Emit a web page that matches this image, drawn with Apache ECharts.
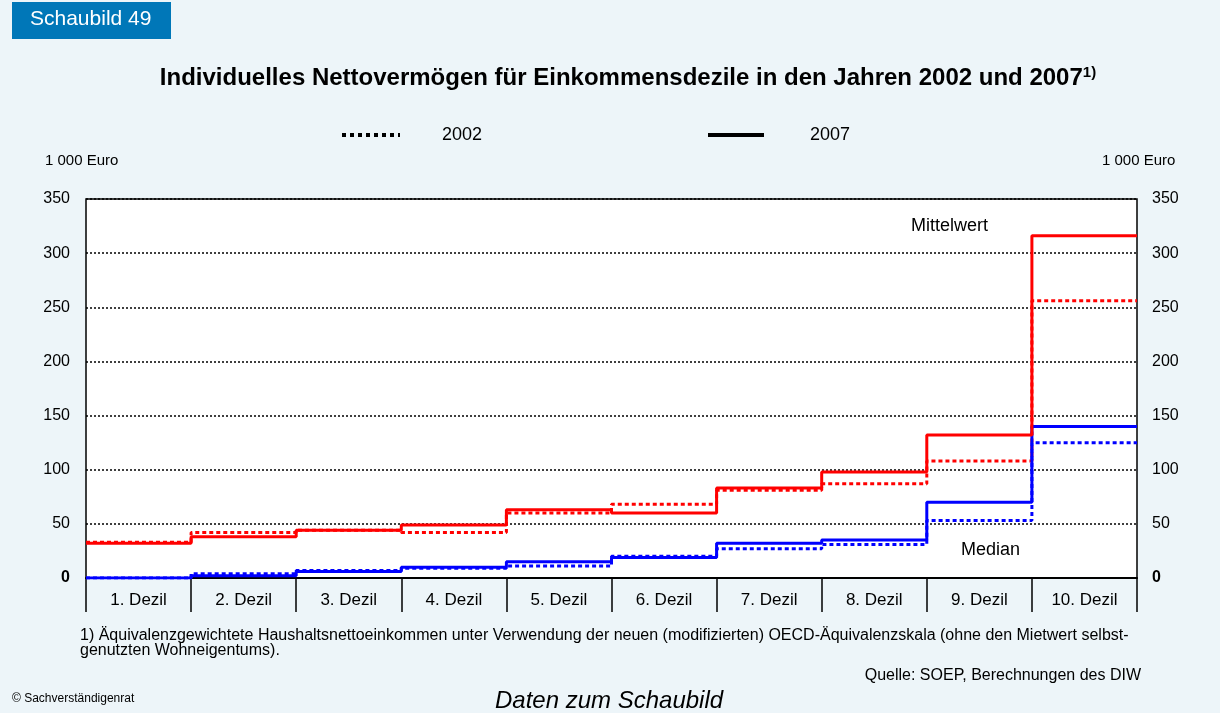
<!DOCTYPE html>
<html>
<head>
<meta charset="utf-8">
<script src="https://cdn.jsdelivr.net/npm/echarts@6/dist/echarts.min.js"></script>
<style>
  html, body { margin: 0; padding: 0; background: #edf5f9; }
  #chart { width: 1220px; height: 713px; }
</style>
</head>
<body>
<div id="chart"></div>
<script>
// Dezile
var deciles = ['1. Dezil', '2. Dezil', '3. Dezil', '4. Dezil', '5. Dezil',
               '6. Dezil', '7. Dezil', '8. Dezil', '9. Dezil', '10. Dezil'];
// Mittelwert (1 000 Euro)
var mean2002 = [33, 42, 44, 42, 60, 68, 81, 87, 108, 256];
var mean2007 = [32, 38, 44, 49, 63, 60, 83, 98, 132, 316];
// Median (1 000 Euro)
var median2002 = [0, 4, 7, 9, 11, 20, 27, 31, 53, 125];
var median2007 = [0, 2, 6, 10, 15, 19, 32, 35, 70, 140];
// y-Achse
var yTicks = [0, 50, 100, 150, 200, 250, 300, 350];

var font = '"Liberation Sans", Arial, sans-serif';

// Treppenpunkte: jede Stufe reicht ueber das ganze Dezil
function steps(values) {
  var pts = values.map(function (v, i) { return [i, v]; });
  pts.push([values.length, values[values.length - 1]]);
  return pts;
}

function stepSeries(name, values, color, dotted, z) {
  return {
    name: name,
    type: 'line',
    xAxisIndex: 1,
    yAxisIndex: 0,
    step: 'end',
    symbol: 'none',
    silent: true,
    z: z,
    data: steps(values),
    lineStyle: { color: color, width: 3, type: dotted ? [4, 3] : 'solid' }
  };
}

function yLabel(margin) {
  return {
    color: '#000', fontSize: 16, margin: margin, fontFamily: font,
    formatter: function (v) { return v === 0 ? '{b|0}' : String(v); },
    rich: { b: { fontWeight: 'bold', fontSize: 16, fontFamily: font, color: '#000' } }
  };
}

function legendFor(name, left, width, gap, dotted) {
  return {
    data: [name],
    left: left,
    top: 126,
    padding: 0,
    itemWidth: width,
    itemHeight: 14,
    itemStyle: { opacity: 0 },
    lineStyle: { color: '#000', width: 4, type: dotted ? [4, 4] : 'solid' },
    textStyle: { fontFamily: font, fontSize: 18, color: '#000', padding: [0, 0, 0, gap] }
  };
}

var chart = echarts.init(document.getElementById('chart'));
var option = {
  backgroundColor: '#edf5f9',
  textStyle: { fontFamily: font },
  animation: false,
  title: {
    text: '{t|Individuelles Nettovermögen für Einkommensdezile in den Jahren 2002 und 2007}{s|1)}',
    left: 623,
    textAlign: 'center',
    top: 60,
    textStyle: {
      rich: {
        t: { fontFamily: font, fontSize: 24, fontWeight: 'bold', color: '#000' },
        s: { fontFamily: font, fontSize: 15, color: '#000', verticalAlign: 'top', padding: [0, 0, 12, 0] }
      }
    }
  },
  legend: [
    legendFor('2002', 340, 58, 37, true),
    legendFor('2007', 706, 56, 41, false)
  ],
  grid: {
    left: 86, right: 83, top: 199, bottom: 135,
    show: true,
    backgroundColor: '#ffffff',
    borderColor: '#000',
    borderWidth: 1.5
  },
  xAxis: [
    {
      type: 'category',
      data: deciles,
      boundaryGap: true,
      position: 'bottom',
      axisLine: { lineStyle: { color: '#000', width: 2 } },
      axisTick: { show: true, length: 34, lineStyle: { color: '#000', width: 1.5 } },
      axisLabel: { color: '#000', fontSize: 17, margin: 14, fontFamily: font },
      splitLine: { show: false }
    },
    {
      type: 'value',
      min: 0, max: deciles.length,
      show: false
    }
  ],
  yAxis: [
    {
      type: 'value',
      min: yTicks[0], max: yTicks[yTicks.length - 1], interval: 50,
      axisLine: { show: false },
      axisTick: { show: false },
      axisLabel: yLabel(16),
      splitLine: { show: true, lineStyle: { color: '#000', width: 1.5, type: [2, 2] } }
    },
    {
      type: 'value',
      position: 'right',
      min: yTicks[0], max: yTicks[yTicks.length - 1], interval: 50,
      axisLine: { show: false },
      axisTick: { show: false },
      axisLabel: yLabel(15),
      splitLine: { show: false }
    }
  ],
  series: [
    // nur fuer die Legende
    { name: '2002', type: 'line', xAxisIndex: 1, data: [], symbol: 'none',
      lineStyle: { color: '#000', width: 4, type: [4, 4] }, itemStyle: { color: '#000' } },
    { name: '2007', type: 'line', xAxisIndex: 1, data: [], symbol: 'none',
      lineStyle: { color: '#000', width: 4 }, itemStyle: { color: '#000' } },
    stepSeries('Median 2002', median2002, '#0000ff', true, 3),
    stepSeries('Mittelwert 2002', mean2002, '#ff0000', true, 3),
    stepSeries('Median 2007', median2007, '#0000ff', false, 4),
    stepSeries('Mittelwert 2007', mean2007, '#ff0000', false, 4)
  ],
  graphic: [
    { type: 'rect', left: 12, top: 2, shape: { width: 159, height: 37 }, style: { fill: '#0077b8' } },
    { type: 'text', left: 30, top: 9, style: { text: 'Schaubild 49', fill: '#fff', font: '21px ' + font } },
    { type: 'text', left: 45, top: 153, style: { text: '1 000 Euro', fill: '#000', font: '15px ' + font } },
    { type: 'text', left: 1102, top: 153, style: { text: '1 000 Euro', fill: '#000', font: '15px ' + font } },
    { type: 'text', left: 911, top: 217, style: { text: 'Mittelwert', fill: '#000', font: '18px ' + font } },
    { type: 'text', left: 961, top: 541, style: { text: 'Median', fill: '#000', font: '18px ' + font } },
    { type: 'text', left: 80, top: 628, style: {
        text: '1) Äquivalenzgewichtete Haushaltsnettoeinkommen unter Verwendung der neuen (modifizierten) OECD-Äquivalenzskala (ohne den Mietwert selbst-\ngenutzten Wohneigentums).',
        fill: '#000', font: '16px ' + font, lineHeight: 15 } },
    { type: 'text', right: 79, top: 668, style: { text: 'Quelle: SOEP, Berechnungen des DIW', fill: '#000', font: '16px ' + font } },
    { type: 'text', left: 12, top: 693, style: { text: '© Sachverständigenrat', fill: '#000', font: '12px ' + font } },
    { type: 'text', left: 495, top: 689, style: { text: 'Daten zum Schaubild', fill: '#000', font: 'italic 24px ' + font } }
  ]
};
chart.setOption(option);
</script>
</body>
</html>
